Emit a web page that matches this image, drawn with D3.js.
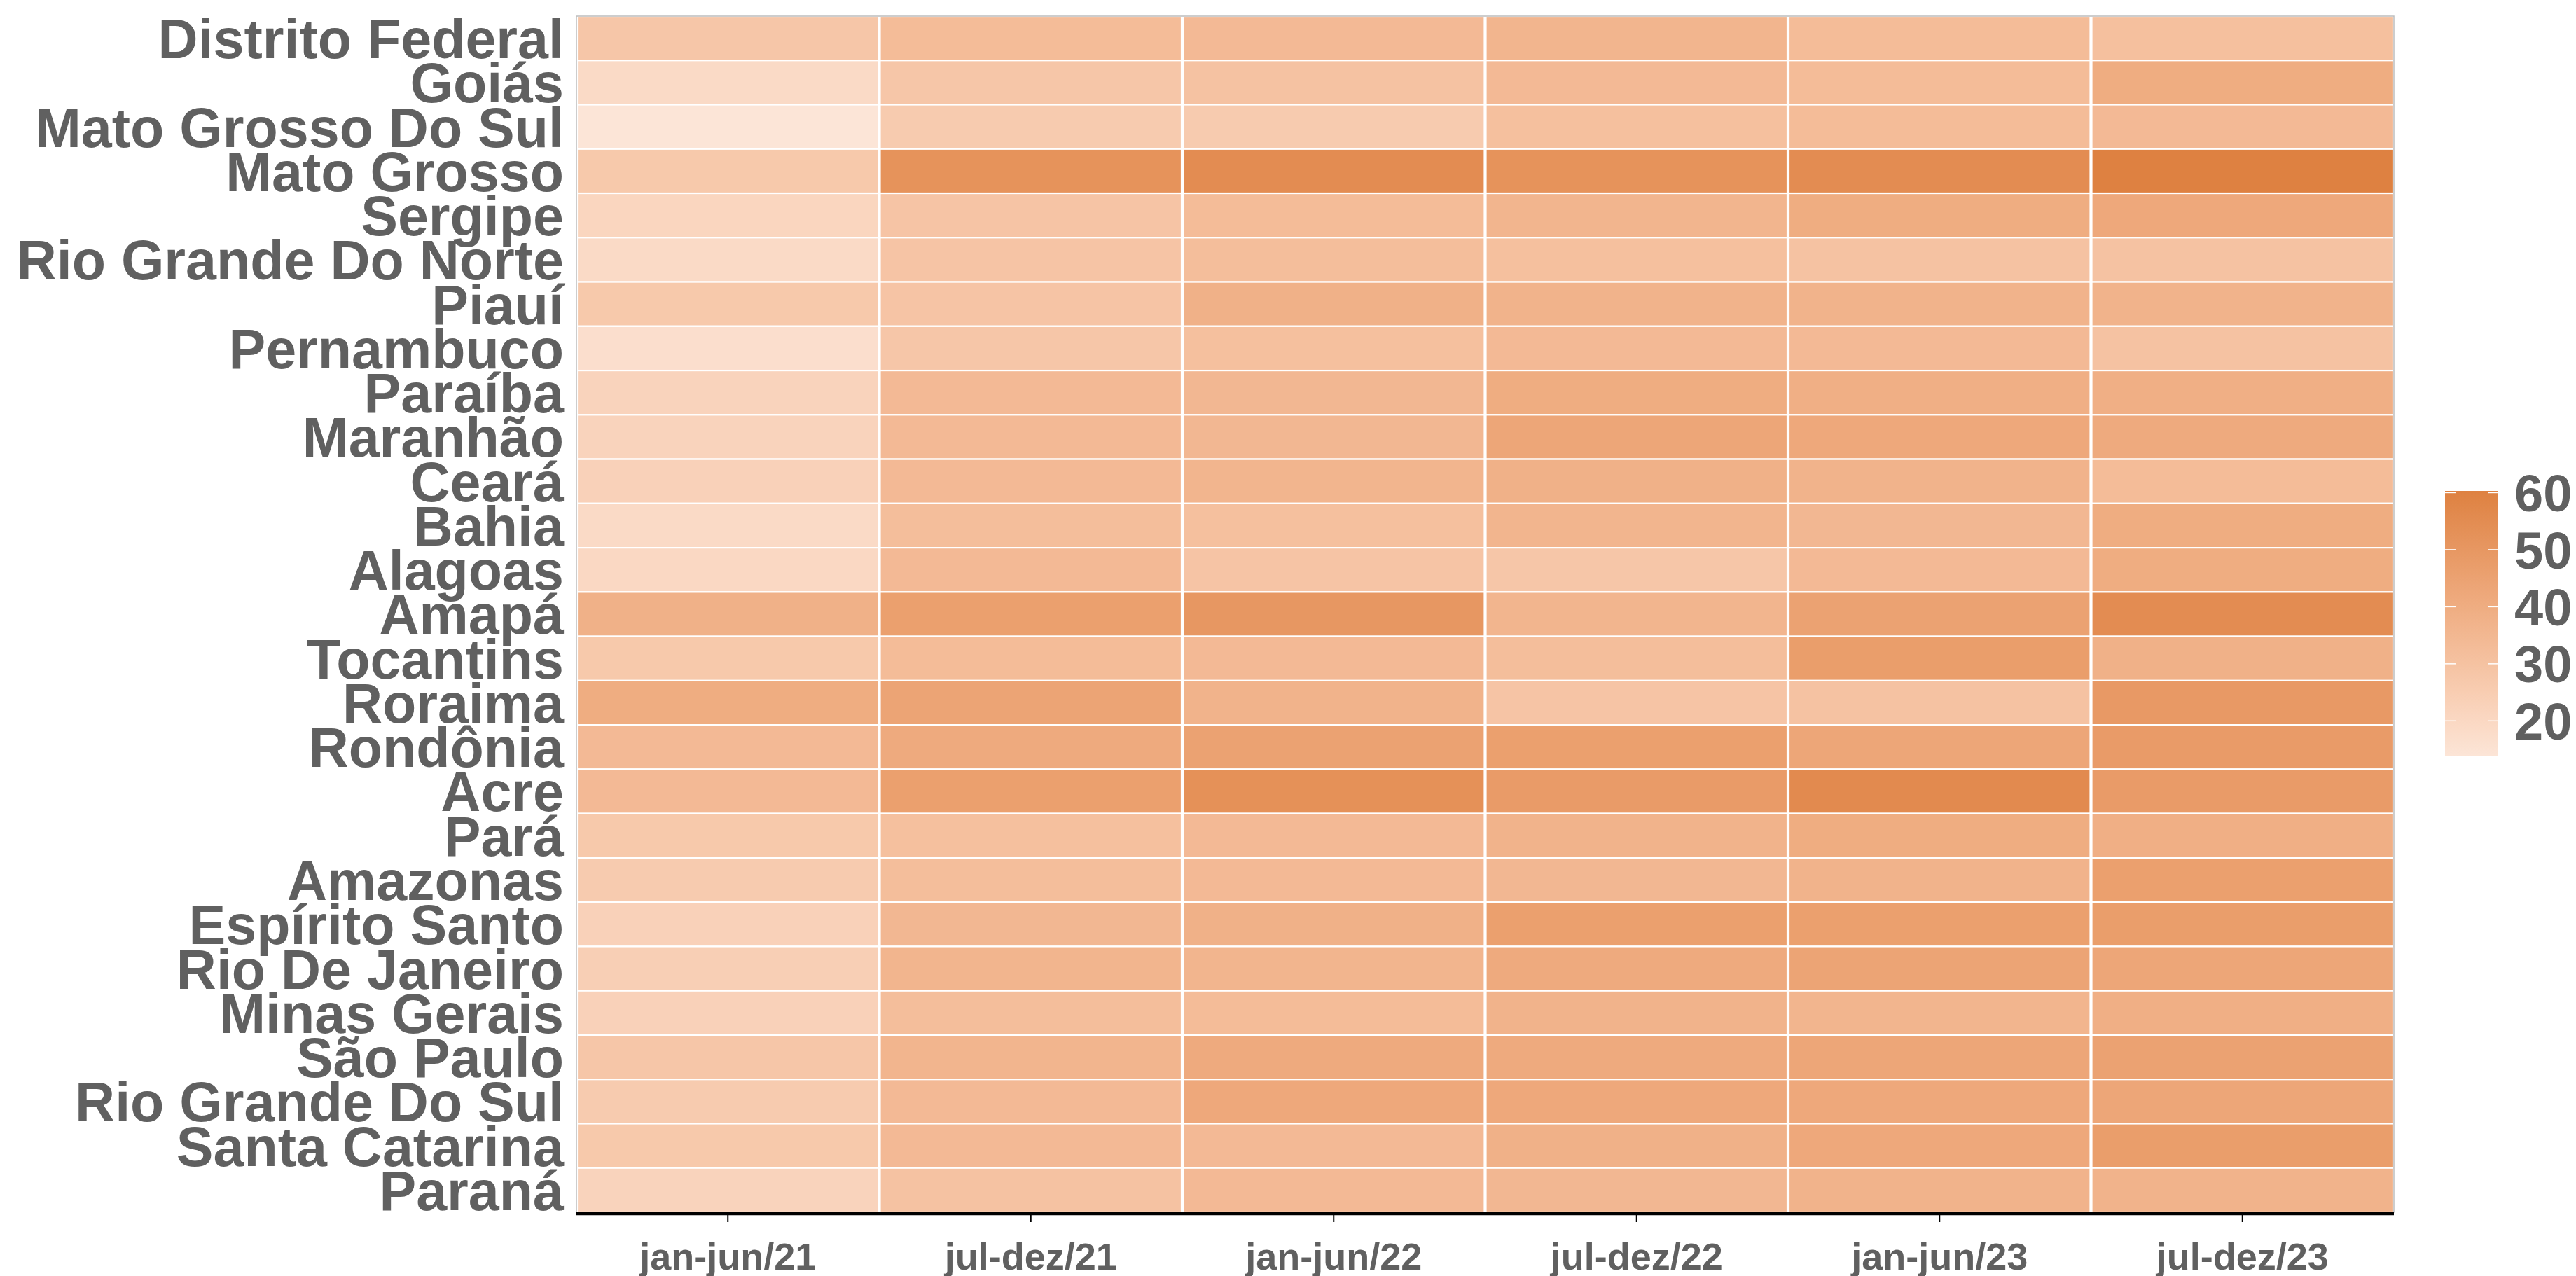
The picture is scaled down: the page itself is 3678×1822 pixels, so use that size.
<!DOCTYPE html>
<html>
<head>
<meta charset="utf-8">
<script src="https://cdn.jsdelivr.net/npm/d3@7"></script>
<style>
  html, body { margin: 0; padding: 0; background: #ffffff; }
  svg { display: block; }
</style>
</head>
<body>
<svg id="chart"></svg>
<script>
// states, top to bottom as drawn
const states = [
  'Distrito Federal', 'Goiás', 'Mato Grosso Do Sul', 'Mato Grosso', 'Sergipe',
  'Rio Grande Do Norte', 'Piauí', 'Pernambuco', 'Paraíba', 'Maranhão', 'Ceará',
  'Bahia', 'Alagoas', 'Amapá', 'Tocantins', 'Roraima', 'Rondônia', 'Acre', 'Pará',
  'Amazonas', 'Espírito Santo', 'Rio De Janeiro', 'Minas Gerais', 'São Paulo',
  'Rio Grande Do Sul', 'Santa Catarina', 'Paraná'
];

const periods = ['jan-jun/21', 'jul-dez/21', 'jan-jun/22', 'jul-dez/22', 'jan-jun/23', 'jul-dez/23'];

// one array per period, same order as `states`
const janJun21 = [28, 19, 13.9, 27, 21, 19, 27, 17, 22, 22, 23, 19, 20, 38, 27, 40, 34, 34, 27, 26, 23, 24, 23, 28, 26, 27, 22];
const julDez21 = [33, 28, 26, 52, 29, 29, 29, 28, 34, 34, 34, 32, 34, 46, 33, 44, 41, 46, 31, 32, 35, 36, 32, 36, 34, 34, 30];
const janJun22 = [34, 30, 26, 55, 33, 32, 38, 31, 35, 35, 36, 31, 29, 50, 34, 37, 45, 53, 34, 34, 38, 36, 33, 41, 42, 34, 34];
const julDez22 = [36, 34, 31, 52, 36, 31, 37, 34, 40, 43, 38, 36, 28, 36, 32, 29, 46, 48, 37, 35, 46, 41, 37, 41, 42, 38, 35];
const janJun23 = [33, 33, 33, 55, 40, 30, 37, 34, 39, 42, 37, 35, 34, 45, 47, 30, 43, 56, 40, 37, 46, 44, 36, 43, 42, 42, 37];
const julDez23 = [31, 40, 34, 60.3, 42, 30, 37, 30, 39, 41, 33, 40, 40, 55, 38, 49, 48, 48, 39, 46, 47, 43, 39, 45, 43, 47, 37];

const legendTicks = [20, 30, 40, 50, 60];

const series = [janJun21, julDez21, janJun22, julDez22, janJun23, julDez23];

const W = 3678;
const H = 1822;
const panel = { left: 823, right: 3418, top: 23, bottom: 1731 };
const INK = '#606060';
const FONT = '"Liberation Sans", Arial, sans-serif';

const cells = [];
periods.forEach((p, i) => {
  states.forEach((s, j) => {
    cells.push({ period: p, state: s, value: series[i][j] });
  });
});

const svg = d3.select('#chart')
  .attr('width', W)
  .attr('height', H)
  .attr('viewBox', `0 0 ${W} ${H}`);

svg.append('rect')
  .attr('width', W)
  .attr('height', H)
  .attr('fill', '#ffffff');

const x = d3.scaleBand()
  .domain(periods)
  .range([panel.left, panel.right]);

const y = d3.scaleBand()
  .domain(states)
  .range([panel.top, panel.bottom]);

const extent = d3.extent(cells, (d) => d.value);
const color = d3.scaleLinear()
  .domain(extent)
  .range(['#fce5d7', '#de8141'])
  .interpolate(d3.interpolateLab);

// tiles
svg.append('g')
  .selectAll('rect')
  .data(cells)
  .join('rect')
  .attr('x', (d) => x(d.period) + 1)
  .attr('y', (d) => y(d.state))
  .attr('width', x.bandwidth() - 2)
  .attr('height', y.bandwidth())
  .attr('fill', (d) => color(d.value))
  .attr('stroke', '#ffffff')
  .attr('stroke-width', 2.2);

// thin grey panel border
svg.append('rect')
  .attr('x', panel.left)
  .attr('y', panel.top)
  .attr('width', panel.right - panel.left)
  .attr('height', panel.bottom - panel.top)
  .attr('fill', 'none')
  .attr('stroke', '#bdbdbd')
  .attr('stroke-width', 1.5);

// y axis (labels only)
const yAxis = svg.append('g')
  .attr('transform', `translate(${panel.left},0)`)
  .call(d3.axisLeft(y).tickSize(0).tickPadding(18));

yAxis.select('.domain').remove();
yAxis.selectAll('text')
  .attr('fill', INK)
  .attr('font-family', FONT)
  .attr('font-size', 79)
  .attr('font-weight', 700)
  .attr('dy', '0.36em');

// x axis
const xAxis = svg.append('g')
  .attr('transform', `translate(0,${panel.bottom})`)
  .call(d3.axisBottom(x).tickSize(14).tickPadding(30));

xAxis.select('.domain').remove();
xAxis.selectAll('.tick line')
  .attr('stroke', '#000000')
  .attr('stroke-width', 2);
xAxis.selectAll('text')
  .attr('fill', INK)
  .attr('font-family', FONT)
  .attr('font-size', 54)
  .attr('font-weight', 700);

svg.append('line')
  .attr('x1', panel.left)
  .attr('x2', panel.right)
  .attr('y1', panel.bottom + 2)
  .attr('y2', panel.bottom + 2)
  .attr('stroke', '#000000')
  .attr('stroke-width', 4.5);

// colour bar legend
const bar = { left: 3491, width: 76, top: 701, bottom: 1079 };

const defs = svg.append('defs');
const grad = defs.append('linearGradient')
  .attr('id', 'fillGrad')
  .attr('x1', 0).attr('y1', 1)
  .attr('x2', 0).attr('y2', 0);

d3.range(0, 1.0001, 0.05).forEach((t) => {
  grad.append('stop')
    .attr('offset', t)
    .attr('stop-color', color(extent[0] + t * (extent[1] - extent[0])));
});

svg.append('rect')
  .attr('x', bar.left)
  .attr('y', bar.top)
  .attr('width', bar.width)
  .attr('height', bar.bottom - bar.top)
  .attr('fill', 'url(#fillGrad)');

const legendY = d3.scaleLinear()
  .domain(extent)
  .range([bar.bottom, bar.top]);

const legend = svg.append('g');

legendTicks.forEach((v) => {
  const ty = legendY(v);

  legend.append('line')
    .attr('x1', bar.left)
    .attr('x2', bar.left + 15)
    .attr('y1', ty)
    .attr('y2', ty)
    .attr('stroke', '#ffffff')
    .attr('stroke-width', 1.5);

  legend.append('line')
    .attr('x1', bar.left + bar.width - 15)
    .attr('x2', bar.left + bar.width)
    .attr('y1', ty)
    .attr('y2', ty)
    .attr('stroke', '#ffffff')
    .attr('stroke-width', 1.5);

  legend.append('text')
    .attr('x', 3590)
    .attr('y', ty)
    .attr('dy', '0.36em')
    .attr('fill', INK)
    .attr('font-family', FONT)
    .attr('font-size', 74)
    .attr('font-weight', 700)
    .text(v);
});
</script>
</body>
</html>
